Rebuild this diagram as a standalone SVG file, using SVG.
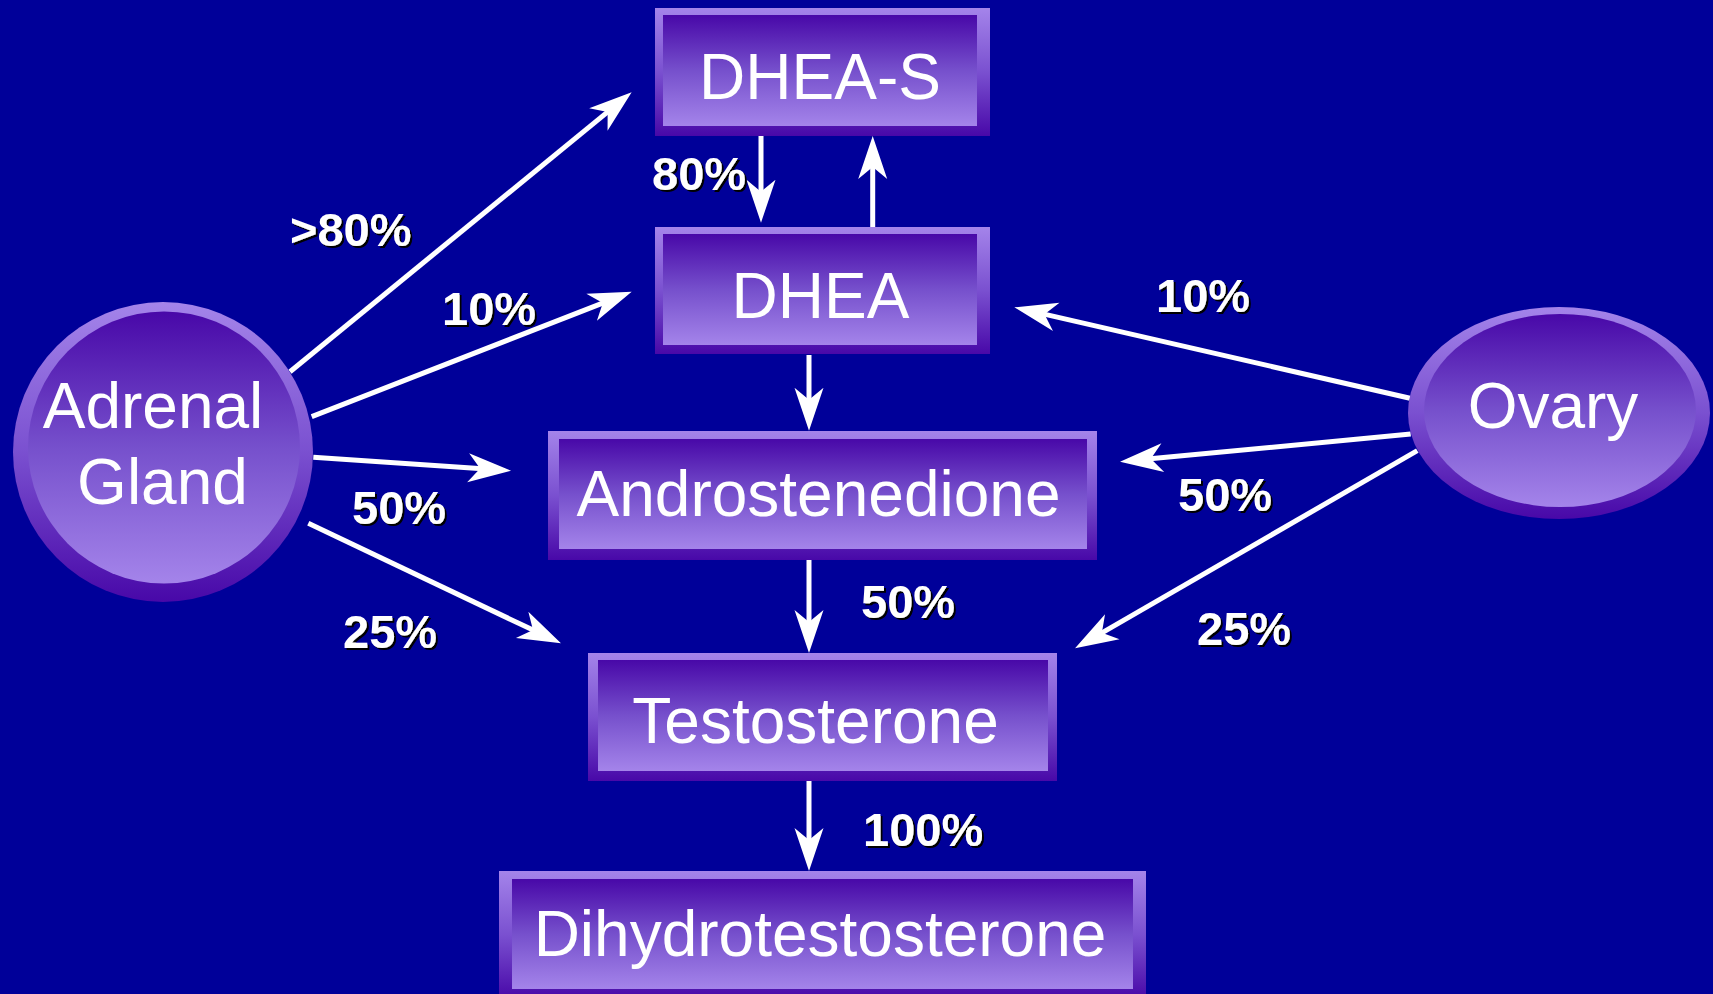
<svg xmlns="http://www.w3.org/2000/svg" width="1713" height="994" viewBox="0 0 1713 994">
<style>
.node-t{font-family:"Liberation Sans",Arial,sans-serif;font-size:64px;fill:#fff;text-anchor:middle}
.lbl{font-family:"Liberation Sans",Arial,sans-serif;font-size:47px;font-weight:bold;fill:#fff;filter:url(#sh)}
.frame{fill:url(#gFrame)}
.inner{fill:url(#gInner)}
.conn{stroke:#fff;stroke-width:5;fill:none;marker-end:url(#ah)}
</style>
<defs>
<linearGradient id="gFrame" x1="0" y1="0" x2="0" y2="1">
<stop offset="0" stop-color="#A484EA"/>
<stop offset="0.5" stop-color="#7A50D0"/>
<stop offset="1" stop-color="#4808A8"/>
</linearGradient>
<linearGradient id="gInner" x1="0" y1="0" x2="0" y2="1">
<stop offset="0" stop-color="#4808A8"/>
<stop offset="0.5" stop-color="#7650CC"/>
<stop offset="1" stop-color="#A484EA"/>
</linearGradient>
<filter id="sh" x="-10%" y="-10%" width="130%" height="130%">
<feDropShadow dx="2" dy="2" stdDeviation="0" flood-color="#000" flood-opacity="1"/>
</filter>
<marker id="ah" markerUnits="userSpaceOnUse" viewBox="-20 -16 48 32" markerWidth="48" markerHeight="32" refX="0" refY="0" orient="auto">
<path d="M25,0 L-18,-14.5 L-6,0 L-18,14.5 Z" fill="#fff"/>
</marker>
</defs>
<rect width="1713" height="994" fill="#000099"/>

<g id="connectors">
<path class="conn" d="M290,371.7 L612.3,108.1"/>
<path class="conn" d="M311.7,416.7 L608.4,300.8"/>
<path class="conn" d="M313.3,457.3 L486.1,469"/>
<path class="conn" d="M308.3,523.3 L538.4,632.6"/>
<path class="conn" d="M761,136 L761,197.7"/>
<path class="conn" d="M872.7,227 L872.7,161"/>
<path class="conn" d="M809,355 L809,405.7"/>
<path class="conn" d="M809,560 L809,628"/>
<path class="conn" d="M809,781 L809,846"/>
<path class="conn" d="M1410,398.3 L1038.7,312.9"/>
<path class="conn" d="M1410.7,434 L1144.9,459.3"/>
<path class="conn" d="M1417.3,450.7 L1096.7,635.8"/>
</g>

<g id="node-adrenal">
<circle class="frame" cx="163" cy="452" r="150"/>
<circle class="inner" cx="164" cy="447.5" r="136"/>
<text class="node-t" x="153" y="428">Adrenal</text>
<text class="node-t" x="162.5" y="504">Gland</text>
</g>

<g id="node-ovary">
<ellipse class="frame" cx="1559" cy="413" rx="151" ry="106"/>
<ellipse class="inner" cx="1560" cy="410.5" rx="136" ry="96.5"/>
<text class="node-t" x="1553" y="428">Ovary</text>
</g>

<g id="node-dheas">
<rect class="frame" x="655" y="8" width="335" height="128"/>
<rect class="inner" x="663" y="15" width="314" height="111"/>
<text class="node-t" x="820" y="99">DHEA-S</text>
</g>

<g id="node-dhea">
<rect class="frame" x="655" y="227" width="335" height="127"/>
<rect class="inner" x="663" y="234" width="314" height="111"/>
<text class="node-t" x="820.5" y="318">DHEA</text>
</g>

<g id="node-androstenedione">
<rect class="frame" x="548" y="431" width="549" height="129"/>
<rect class="inner" x="559" y="439" width="528" height="110"/>
<text class="node-t" x="818.5" y="516">Androstenedione</text>
</g>

<g id="node-testosterone">
<rect class="frame" x="588" y="653" width="469" height="128"/>
<rect class="inner" x="598" y="660" width="450" height="111"/>
<text class="node-t" x="815.5" y="743">Testosterone</text>
</g>

<g id="node-dht">
<rect class="frame" x="499" y="871" width="647" height="128"/>
<rect class="inner" x="512" y="879" width="621" height="110"/>
<text class="node-t" x="820" y="956">Dihydrotestosterone</text>
</g>

<g id="labels">
<text class="lbl" x="290" y="246">&gt;80%</text>
<text class="lbl" x="442" y="325">10%</text>
<text class="lbl" x="352" y="524">50%</text>
<text class="lbl" x="343" y="648">25%</text>
<text class="lbl" x="652" y="190">80%</text>
<text class="lbl" x="1156" y="312">10%</text>
<text class="lbl" x="1178" y="511">50%</text>
<text class="lbl" x="1197" y="645">25%</text>
<text class="lbl" x="861" y="618">50%</text>
<text class="lbl" x="863" y="846">100%</text>
</g>
</svg>
